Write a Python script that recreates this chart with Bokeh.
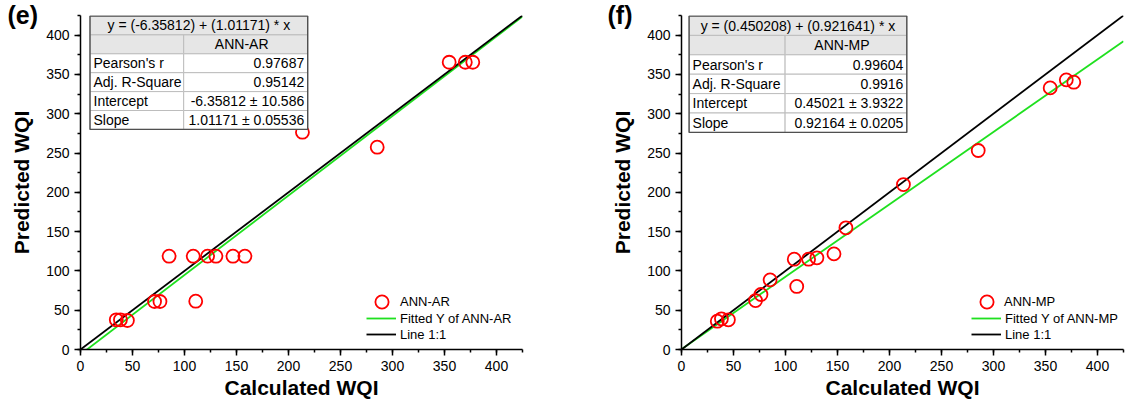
from bokeh.plotting import figure
from bokeh.layouts import row
from bokeh.models import Legend, LegendItem, SingleIntervalTicker, Range1d
from bokeh.core.properties import value
from bokeh.embed import file_html
from bokeh.resources import INLINE

# ---------------- data ----------------
calculated_wqi = [34.4, 38.4, 45.1, 71.2, 76.4, 85.2, 108.4, 110.8, 122.2, 130.2,
                  146.6, 158.1, 213.4, 285.3, 354.5, 370.0, 377.2]
predicted_ar = [37.8, 37.8, 36.9, 61.1, 61.1, 118.7, 118.7, 61.5, 118.7, 118.7,
                118.7, 118.7, 276.5, 257.4, 365.5, 365.5, 365.5]
predicted_mp = [36.0, 39.0, 37.8, 62.3, 70.0, 88.6, 114.9, 80.2, 114.9, 116.6,
                121.7, 154.8, 209.9, 253.2, 332.9, 343.1, 340.1]

ar_intercept, ar_slope = -6.35812, 1.01171
mp_intercept, mp_slope = 0.450208, 0.921641

stat_names = ["Pearson's r", "Adj. R-Square", "Intercept", "Slope"]
ar_stats = ["0.97687", "0.95142", "-6.35812 \u00b1 10.586", "1.01171 \u00b1 0.05536"]
mp_stats = ["0.99604", "0.9916", "0.45021 \u00b1 3.9322", "0.92164 \u00b1 0.0205"]
ar_equation = "y = (-6.35812) + (1.01171) * x"
mp_equation = "y = (0.450208) + (0.921641) * x"

AXIS_MAX = 425
FONT = "Liberation Sans"
FW, FH = 442, 334


def draw_table(p, lpx, spx, rpx, tpx, rh, equation, header, names, vals):
    sx = AXIS_MAX / FW
    sy = AXIS_MAX / FH
    X = lambda px: px * sx
    Y = lambda py: AXIS_MAX - py * sy
    tops = [Y(tpx + i * rh) for i in range(6)]
    bots = [Y(tpx + (i + 1) * rh) for i in range(6)]
    grid_col = "#bdbdbd"
    head_fill = "#e6e6e6"
    p.quad(left=[X(lpx)], right=[X(rpx)], top=[tops[0]], bottom=[bots[0]],
           fill_color=head_fill, line_color=grid_col, line_width=1)
    p.quad(left=[X(lpx), X(spx)], right=[X(spx), X(rpx)], top=[tops[1]] * 2,
           bottom=[bots[1]] * 2, fill_color=head_fill, line_color=grid_col, line_width=1)
    L, R, T, B = [], [], [], []
    for i in range(2, 6):
        L += [X(lpx), X(spx)]
        R += [X(spx), X(rpx)]
        T += [tops[i]] * 2
        B += [bots[i]] * 2
    p.quad(left=L, right=R, top=T, bottom=B, fill_color="white",
           line_color=grid_col, line_width=1)
    p.quad(left=[X(lpx)], right=[X(rpx)], top=[tops[0]], bottom=[bots[5]],
           fill_alpha=0, line_color="#505050", line_width=1.4)
    mid = lambda i: (tops[i] + bots[i]) / 2
    common = dict(text_font=value(FONT), text_font_size="14px", text_color="black",
                  text_baseline="middle")
    p.text(x=[X((lpx + rpx) / 2)], y=[mid(0)], text=[equation], text_align="center", **common)
    p.text(x=[X((spx + rpx) / 2 - 4)], y=[mid(1)], text=[header], text_align="center", **common)
    p.text(x=[X(lpx + 3.5)] * 4, y=[mid(i) for i in range(2, 6)], text=names,
           text_align="left", **common)
    p.text(x=[X(rpx - 3.5)] * 4, y=[mid(i) for i in range(2, 6)], text=vals,
           text_align="right", **common)


def style_legend(lg, gw, gh, standoff):
    lg.label_text_font = FONT
    lg.label_text_font_size = "13px"
    lg.label_text_color = "black"
    lg.glyph_width = gw
    lg.glyph_height = gh
    lg.label_height = gh
    lg.label_standoff = standoff
    lg.spacing = 0
    lg.padding = 0
    lg.margin = 0
    lg.border_line_alpha = 0
    lg.background_fill_alpha = 0


def make_panel(bl, br, yvals, intercept, slope, name, equation, stats,
               tag, tag_offset, leg_a, leg_b, table_geom):
    p = figure(frame_width=FW, frame_height=FH, min_border_left=bl, min_border_right=br,
               min_border_top=15, min_border_bottom=55,
               x_range=Range1d(0, AXIS_MAX), y_range=Range1d(0, AXIS_MAX),
               output_backend="svg", toolbar_location=None, background_fill_color="white",
               border_fill_color="white")
    p.outline_line_color = None
    p.grid.visible = False
    p.xaxis.axis_label = "Calculated WQI"
    p.yaxis.axis_label = "Predicted WQI"
    for ax in (p.xaxis[0], p.yaxis[0]):
        ax.ticker = SingleIntervalTicker(interval=50, num_minor_ticks=2)
        ax.axis_line_width = 1.5
        ax.axis_line_color = "black"
        ax.major_tick_line_width = 1.5
        ax.minor_tick_line_width = 1.5
        ax.major_tick_line_color = "black"
        ax.minor_tick_line_color = "black"
        ax.major_tick_out = 6
        ax.major_tick_in = 0
        ax.minor_tick_out = 3
        ax.minor_tick_in = 0
        ax.major_label_text_font = FONT
        ax.major_label_text_font_size = "14px"
        ax.major_label_text_color = "black"
        ax.axis_label_text_font = FONT
        ax.axis_label_text_font_size = "21px"
        ax.axis_label_text_font_style = "bold"
        ax.axis_label_text_color = "black"
    p.xaxis.major_label_standoff = 5
    p.xaxis.axis_label_standoff = 2
    p.yaxis.major_label_standoff = 5
    p.yaxis.axis_label_standoff = 10

    # panel tag as the (left-aligned, shifted) title
    p.title.text = tag
    p.title.text_font = FONT
    p.title.text_font_size = "25px"
    p.title.text_font_style = "bold"
    p.title.text_color = "black"
    p.title.align = "left"
    p.title.offset = tag_offset
    p.title.standoff = -26

    xs = [0, AXIS_MAX]
    gl = p.line(xs, [intercept + slope * x for x in xs], line_color="#1fe01f", line_width=1.8)
    bk = p.line(xs, xs, line_color="black", line_width=1.8)
    sc = p.scatter(calculated_wqi, yvals, marker="circle", size=13, fill_color=None,
                   line_color="#ff0000", line_width=1.8)

    draw_table(p, *table_geom, equation, name, stat_names, stats)

    lga = Legend(items=[LegendItem(label=name, renderers=[sc])], location=leg_a[:2])
    style_legend(lga, 33, 33, leg_a[2])
    lgb = Legend(items=[LegendItem(label="Fitted Y of " + name, renderers=[gl]),
                        LegendItem(label="Line 1:1", renderers=[bk])],
                 location=leg_b[:2])
    style_legend(lgb, 30, 16, leg_b[2])
    p.add_layout(lga)
    p.add_layout(lgb)
    return p


p1 = make_panel(80, 78, predicted_ar, ar_intercept, ar_slope, "ANN-AR",
                ar_equation, ar_stats, "(e)", -73,
                (285, 31, 2), (286, 7, 4),
                (9.5, 103.2, 227.2, 0.5, 18.9))
p2 = make_panel(81, 2, predicted_mp, mp_intercept, mp_slope, "ANN-MP",
                mp_equation, mp_stats, "(f)", -74,
                (289, 31, 1), (290, 7, 4),
                (7.6, 103.6, 225.3, 0.5, 19.4))

layout = row(p1, p2)
open("out.html", "w").write(file_html(layout, INLINE))
